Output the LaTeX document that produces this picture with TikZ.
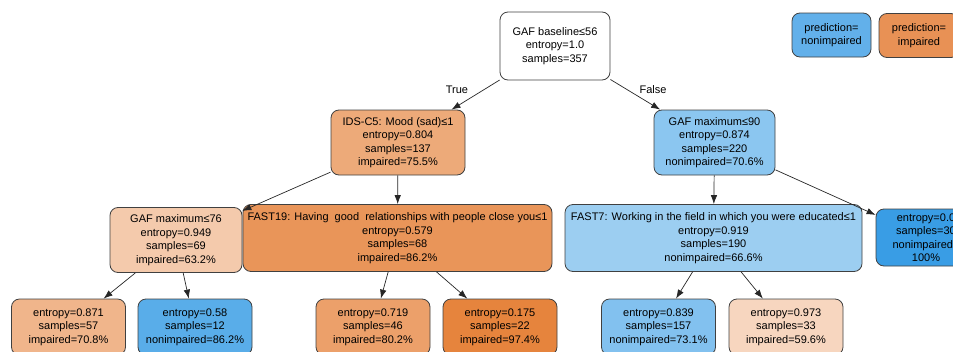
\documentclass[tikz,border=0pt]{standalone}
\usepackage{fontspec}
\setmainfont{Liberation Sans}
\usetikzlibrary{arrows.meta}
\usepackage{xcolor}

\definecolor{legblue}{RGB}{98,176,234}
\definecolor{legorange}{RGB}{232,145,85}

\tikzset{
	treebox/.style={draw=black!75, line width=0.8pt, rounded corners=8pt, align=center, inner sep=2pt, font=\fontsize{11}{13.5}\selectfont},
	leafbox/.style={treebox, minimum width=114pt, minimum height=56pt},
	branch/.style={-{Latex[length=9pt,width=6.5pt]}, line width=0.7pt, black!85},
	lbl/.style={font=\fontsize{11}{13.5}\selectfont}
}

\begin{document}
\begin{tikzpicture}[x=1pt,y=-1pt]

	\useasboundingbox (0,0) rectangle (953,351);
	\clip (0,0) rectangle (953,351);

	% legend
	\node[treebox, fill=legblue, minimum width=79pt, minimum height=44pt] (legnon) at (831.5,35) {prediction=\\nonimpaired};
	\node[treebox, fill=legorange, minimum width=80pt, minimum height=44pt] (legimp) at (919,35.5) {prediction=\\impaired};

	% root
	\node[treebox, fill=white, minimum width=110pt, minimum height=68pt] (root) at (555,46) {GAF baseline≤56\\entropy=1.0\\samples=357};
	\node[lbl] (truelbl) at (457,90) {True};
	\node[lbl] (falselbl) at (653,90) {False};

	% 1st level
	\node[treebox, fill={rgb,255:red,237;green,170;blue,121}, minimum width=134pt, minimum height=65pt] (ids) at (398,142.5) {IDS-C5: Mood (sad)≤1\\entropy=0.804\\samples=137\\impaired=75.5\%};
	\node[treebox, fill={rgb,255:red,139;green,198;blue,240}, minimum width=121pt, minimum height=65pt] (gafmax) at (714.5,142.5) {GAF maximum≤90\\entropy=0.874\\samples=220\\nonimpaired=70.6\%};

	% 2nd level
	\node[treebox, fill={rgb,255:red,244;green,202;blue,172}, minimum width=132pt, minimum height=65pt] (gafmin) at (176,240) {GAF maximum≤76\\entropy=0.949\\samples=69\\impaired=63.2\%};
	\node[treebox, fill={rgb,255:red,233;green,149;blue,89}, minimum width=309pt, minimum height=67pt] (fastnineteen) at (397.5,238) {FAST19: Having\ \ good\ \ relationships with people close you≤1\\entropy=0.579\\samples=68\\impaired=86.2\%};
	\node[treebox, fill={rgb,255:red,156;green,206;blue,241}, minimum width=297pt, minimum height=67pt] (fastseven) at (713.5,238) {FAST7: Working in the field in which you were educated≤1\\entropy=0.919\\samples=190\\nonimpaired=66.6\%};
	\node[treebox, fill={rgb,255:red,57;green,157;blue,229}, minimum width=100pt, minimum height=57pt] (pure) at (926,237.5) {entropy=0.0\\samples=30\\nonimpaired=\\100\%};

	% leaves
	\node[leafbox, fill={rgb,255:red,240;green,181;blue,139}] (leafa) at (68.5,327) {entropy=0.871\\samples=57\\impaired=70.8\%};
	\node[leafbox, fill={rgb,255:red,89;green,173;blue,233}] (leafb) at (195,327) {entropy=0.58\\samples=12\\nonimpaired=86.2\%};
	\node[leafbox, fill={rgb,255:red,236;green,160;blue,106}] (leafc) at (373,327) {entropy=0.719\\samples=46\\impaired=80.2\%};
	\node[leafbox, fill={rgb,255:red,230;green,132;blue,61}] (leafd) at (500,327) {entropy=0.175\\samples=22\\impaired=97.4\%};
	\node[leafbox, fill={rgb,255:red,130;green,193;blue,239}] (leafe) at (658.5,327) {entropy=0.839\\samples=157\\nonimpaired=73.1\%};
	\node[leafbox, fill={rgb,255:red,247;green,214;blue,191}] (leaff) at (786,327) {entropy=0.973\\samples=33\\impaired=59.6\%};

	% branches
	\draw[branch] (root) -- (ids);
	\draw[branch] (root) -- (gafmax);
	\draw[branch] (ids) -- (gafmin);
	\draw[branch] (ids) -- (fastnineteen);
	\draw[branch] (gafmax) -- (fastseven);
	\draw[branch] (gafmax) -- (pure);
	\draw[branch] (gafmin) -- (leafa);
	\draw[branch] (gafmin) -- (leafb);
	\draw[branch] (fastnineteen) -- (leafc);
	\draw[branch] (fastnineteen) -- (leafd);
	\draw[branch] (fastseven) -- (leafe);
	\draw[branch] (fastseven) -- (leaff);

\end{tikzpicture}
\end{document}
